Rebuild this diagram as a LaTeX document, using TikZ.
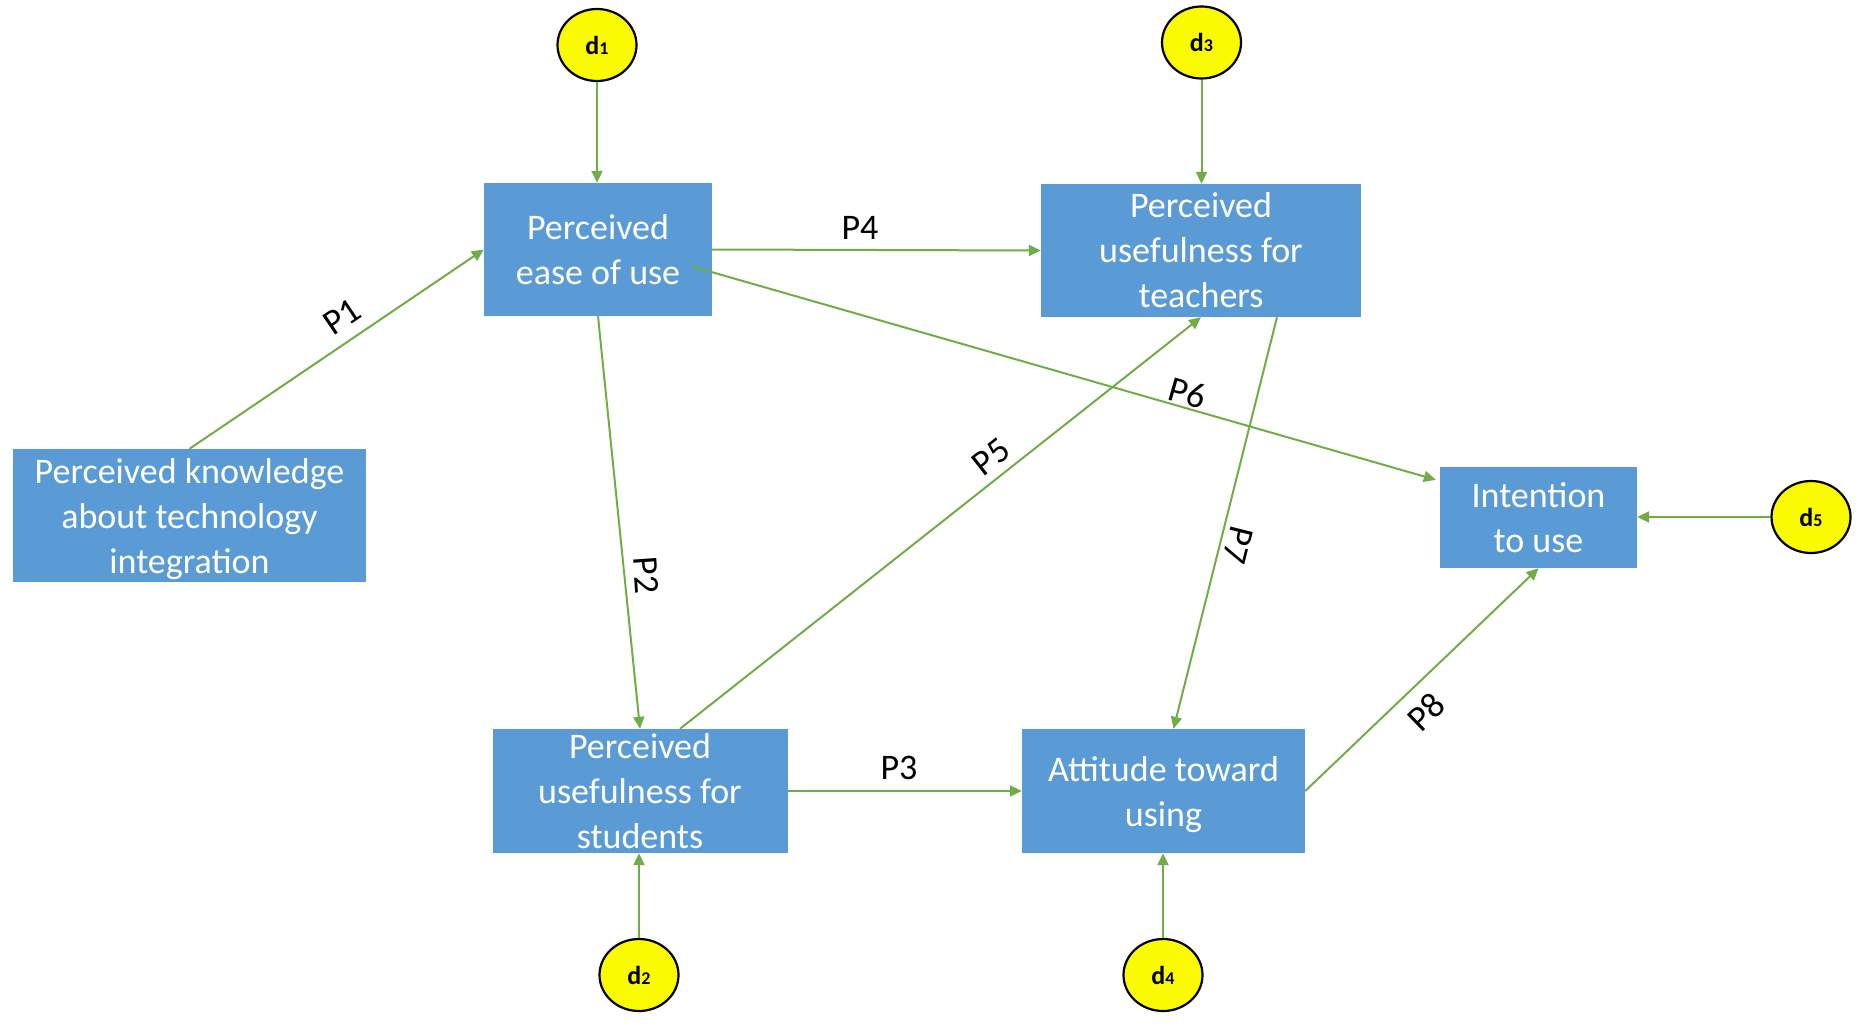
\documentclass[tikz,border=0pt]{standalone}
\usepackage{fontspec}
\setmainfont{Carlito}
\usetikzlibrary{arrows.meta,calc,shapes.geometric}
\definecolor{boxblue}{HTML}{5B9BD5}
\definecolor{cgreen}{HTML}{70AD47}
\definecolor{dyellow}{HTML}{FAFA00}
\begin{document}
\begin{tikzpicture}[x=1pt,y=-1pt,
  box/.style={fill=boxblue, text=white, align=center, inner sep=0pt,
    text depth=0pt, font=\fontsize{36}{45}\selectfont},
  dnode/.style={ellipse, draw=black, line width=2.2pt, fill=dyellow,
    minimum width=79pt, minimum height=72pt, inner sep=0pt},
  conn/.style={draw=cgreen, line width=2pt, -{Triangle[length=12pt,width=11pt]}},
  lbl/.style={text=black, inner sep=0pt, font=\fontsize{36}{45}\selectfont}
]
\useasboundingbox (0,0) rectangle (1862,1027);
\newcommand{\dlab}[1]{{\fontsize{26}{26}\selectfont\bfseries d}{\fontsize{18}{18}\selectfont\bfseries #1}}

% boxes
\node[box, minimum width=228pt, minimum height=133pt] (peou) at (598,249.5) {Perceived\\ease of use};
\node[box, minimum width=320pt, minimum height=133pt] (put) at (1201,250.5) {Perceived\\usefulness for\\teachers};
\node[box, minimum width=353pt, minimum height=133pt] (pkt) at (189.5,515.5) {Perceived knowledge\\about technology\\integration};
\node[box, minimum width=295pt, minimum height=124pt] (pus) at (640,791) {Perceived\\usefulness for\\students};
\node[box, minimum width=283pt, minimum height=124pt] (att) at (1163.5,791) {Attitude toward\\using};
\node[box, minimum width=197pt, minimum height=101pt] (int) at (1538.5,517.5) {Intention\\to use};

% disturbance nodes
\node[dnode] (d1) at (597,45) {\dlab{1}};
\node[dnode] (d3) at (1201.5,42.5) {\dlab{3}};
\node[dnode] (d2) at (639,975) {\dlab{2}};
\node[dnode] (d4) at (1163,975) {\dlab{4}};
\node[dnode] (d5) at (1811,517) {\dlab{5}};

% connectors
\draw[conn] (d1.south) -- (d1.south |- peou.north);
\draw[conn] (d3.south) -- (d3.south |- put.north);
\draw[conn] (d2.north) -- (d2.north |- pus.south);
\draw[conn] (d4.north) -- (d4.north |- att.south);
\draw[conn] (d5.west) -- (d5.west -| int.east);
\draw[conn] (pkt.north) -- (peou.west);
\draw[conn] (peou.south) -- (pus.north);
\draw[conn] (pus.east) -- (att.west);
\draw[conn] (peou.east) -- (put.west);
\draw[conn] ([xshift=40pt]pus.north) -- (put.south);
\draw[conn] ([xshift=-20pt,yshift=-17pt]peou.east) -- ([xshift=-4pt,yshift=-13pt]int.north west);
\draw[conn] ([xshift=76pt]put.south) -- ([xshift=10pt]att.north);
\draw[conn] (att.east) -- (int.south);

% path labels
\node[lbl, rotate=34] (l1) at (342,317) {P1};
\node[lbl, rotate=-86] (l2) at (646,575) {P2};
\node[lbl] (l3) at (899,768) {P3};
\node[lbl] (l4) at (860,228) {P4};
\node[lbl, rotate=38] (l5) at (991,457) {P5};
\node[lbl, rotate=-16] (l6) at (1188,393) {P6};
\node[lbl, rotate=-104] (l7) at (1238,545) {P7};
\node[lbl, rotate=44] (l8) at (1426,712) {P8};
\end{tikzpicture}
\end{document}
